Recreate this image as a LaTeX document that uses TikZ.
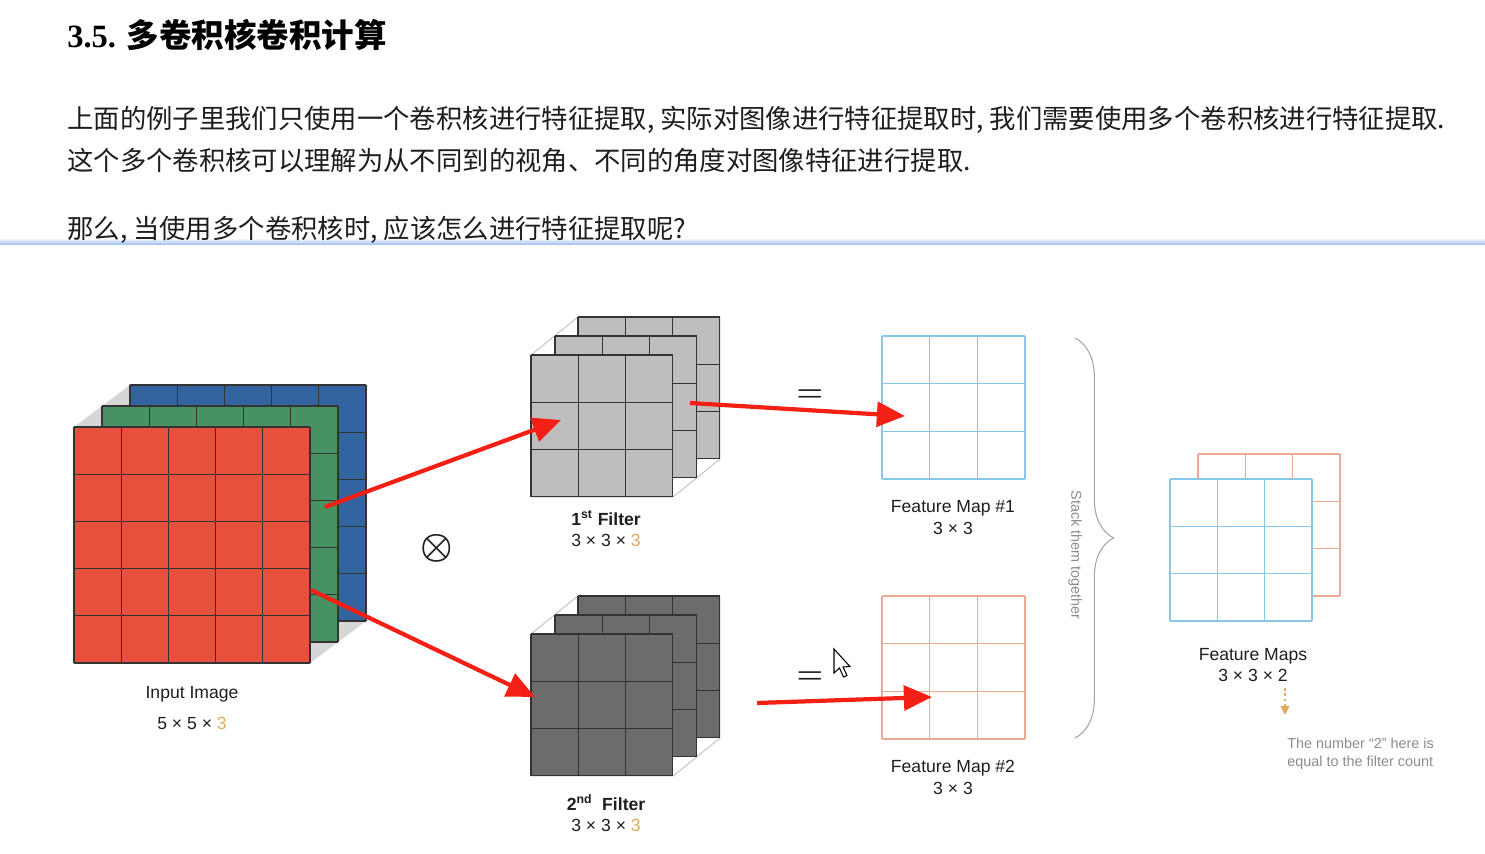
\documentclass[tikz,border=0pt]{standalone}
\usepackage{fontspec}
\setmainfont{Liberation Sans}
\newfontfamily\cjk{Noto Sans CJK SC}
\newfontfamily\numserif{Liberation Serif}
\usepackage{tikz}
\usetikzlibrary{arrows.meta, decorations.pathreplacing}
\definecolor{imgred}{RGB}{230,80,60}
\definecolor{imggreen}{RGB}{72,145,98}
\definecolor{imgblue}{RGB}{52,100,160}
\definecolor{hullgray}{RGB}{214,214,214}
\definecolor{filterlight}{RGB}{190,190,190}
\definecolor{filterdark}{RGB}{108,108,108}
\definecolor{fmblue}{RGB}{135,200,232}
\definecolor{fmsalmon}{RGB}{236,170,148}
\definecolor{annored}{RGB}{244,32,22}
\definecolor{depthgold}{RGB}{226,172,96}
\definecolor{notegray}{RGB}{140,140,140}
\definecolor{sepblue}{RGB}{165,198,240}
\definecolor{inktext}{RGB}{30,30,30}

% x, y, cell, n, fill options, line options
\newcommand{\facegrid}[6]{%
  \path[#5] (#1,#2) rectangle ({#1+#4*#3},{#2+#4*#3});
  \foreach \k in {0,...,#4}{
    \draw[#6] ({#1+\k*#3},#2) -- ({#1+\k*#3},{#2+#4*#3});
    \draw[#6] (#1,{#2+\k*#3}) -- ({#1+#4*#3},{#2+\k*#3});
  }
}

\begin{document}
\begin{tikzpicture}[x=0.02cm, y=-0.02cm,
  body/.style={font=\cjk\fontsize{15}{18}\selectfont, text=inktext, inner sep=0pt, anchor=base west},
  lbl/.style={font=\fontsize{10}{12}\selectfont, text=inktext, inner sep=0pt, anchor=base},
  note/.style={font=\fontsize{8.2}{10}\selectfont, text=notegray, inner sep=0pt, anchor=base west},
  cell/.style={line width=0.6pt, draw=black!80},
  fmline/.style={line width=0.7pt},
  hull/.style={draw=black!25, line width=0.5pt, fill=white},
  redarrow/.style={-{Triangle[length=16pt,width=14pt]}, line width=2.4pt, draw=annored},
  eqsign/.style={font=\fontsize{18}{18}\selectfont\boldmath, text=inktext, inner sep=0pt}
]
\useasboundingbox (0,0) rectangle (1485,853);
\fill[white] (0,0) rectangle (1485,853);

% heading and text
\shade[top color=white, bottom color=sepblue] (0,238) rectangle (1485,244);
\node[inner sep=0pt, anchor=base west, font=\fontsize{18.5}{22}\selectfont\bfseries] (title) at (67,47)
  {\numserif 3.5. \cjk 多卷积核卷积计算};
\node[body] (line1) at (67,128) {上面的例子里我们只使用一个卷积核进行特征提取, 实际对图像进行特征提取时, 我们需要使用多个卷积核进行特征提取.};
\node[body] (line2) at (67,170) {这个多个卷积核可以理解为从不同到的视角、不同的角度对图像特征进行提取.};
\node[body] (line3) at (67,238) {那么, 当使用多个卷积核时, 应该怎么进行特征提取呢?};

% input image 5x5x3
\fill[hullgray] (74,427) -- (130,385) -- (366,385) -- (366,621) -- (310,663) -- (74,663) -- cycle;
\facegrid{130}{385}{47.2}{5}{fill=imgblue}{cell}
\facegrid{102}{406}{47.2}{5}{fill=imggreen}{cell}
\facegrid{74}{427}{47.2}{5}{fill=imgred}{cell}
\node[lbl] (imgname) at (192,698) {Input Image};
\node[lbl] (imgdim) at (192,729) {5 × 5 × \textcolor{depthgold}{3}};

\node[inner sep=0pt, font=\fontsize{20}{20}\selectfont\boldmath, text=inktext] (conv) at (437,548) {$\otimes$};

% first filter
\path[hull] (531,355) -- (578,317) -- (720,317) -- (720,459) -- (673,497) -- (531,497) -- cycle;
\facegrid{578}{317}{47.3}{3}{fill=filterlight}{cell}
\facegrid{555}{336}{47.3}{3}{fill=filterlight}{cell}
\facegrid{531}{355}{47.3}{3}{fill=filterlight}{cell}
\node[lbl, font=\fontsize{10}{12}\selectfont\bfseries] (f1name) at (606,525) {1\textsuperscript{st} Filter};
\node[lbl] (f1dim) at (606,546) {3 × 3 × \textcolor{depthgold}{3}};

% second filter
\path[hull] (531,634) -- (578,596) -- (720,596) -- (720,738) -- (673,776) -- (531,776) -- cycle;
\facegrid{578}{596}{47.3}{3}{fill=filterdark}{cell}
\facegrid{555}{615}{47.3}{3}{fill=filterdark}{cell}
\facegrid{531}{634}{47.3}{3}{fill=filterdark}{cell}
\node[lbl, font=\fontsize{10}{12}\selectfont\bfseries] (f2name) at (606,810) {2\textsuperscript{nd}\ \ Filter};
\node[lbl] (f2dim) at (606,831) {3 × 3 × \textcolor{depthgold}{3}};

\node[eqsign] (eq1) at (810,396) {$=$};
\node[eqsign] (eq2) at (810,678) {$=$};

% feature maps
\facegrid{882}{336}{47.7}{3}{}{fmline, draw=fmblue}
\node[lbl] (fm1name) at (953,512) {Feature Map \#1};
\node[lbl] (fm1dim) at (953,534) {3 × 3};
\facegrid{882}{596}{47.7}{3}{}{fmline, draw=fmsalmon}
\node[lbl] (fm2name) at (953,772) {Feature Map \#2};
\node[lbl] (fm2dim) at (953,794) {3 × 3};

% brace
\draw[black!35, line width=0.6pt, decorate, decoration={brace, amplitude=22pt}] (1075,338) -- (1075,738);
\node[font=\fontsize{8.2}{10}\selectfont, text=notegray, inner sep=0pt, rotate=-90] (stack) at (1075,555) {Stack them together};

% stacked maps
\facegrid{1198}{454}{47.3}{3}{}{fmline, draw=fmsalmon}
\facegrid{1170}{479}{47.3}{3}{fill=white}{fmline, draw=fmblue}
\node[lbl] (fmsname) at (1253,660) {Feature Maps};
\node[lbl] (fmsdim) at (1253,681) {3 × 3 × 2};
\coordinate (cntTop) at (1285,688);
\coordinate (cntTip) at (1285,715);
\draw[depthgold, line width=0.6pt, dash pattern=on 1.5pt off 1.5pt, -{Triangle[length=5pt,width=5pt]}] (cntTop) -- (cntTip);
\node[note] (note1) at (1287,748) {The number “2” here is};
\node[note] (note2) at (1287,766) {equal to the filter count};

% red annotation arrows
\coordinate (imgOut1) at (325,507);
\coordinate (fltIn1) at (561,420);
\coordinate (imgOut2) at (311,590);
\coordinate (fltIn2) at (535,697);
\coordinate (fltOut1) at (690,403);
\coordinate (fmIn1) at (905,416);
\coordinate (eqOut2) at (757,703);
\coordinate (fmIn2) at (932,697);
\draw[redarrow] (imgOut1) -- (fltIn1);
\draw[redarrow] (imgOut2) -- (fltIn2);
\draw[redarrow] (fltOut1) -- (fmIn1);
\draw[redarrow] (eqOut2) -- (fmIn2);

% mouse pointer
\draw[fill=white, line width=0.6pt] (834,649) -- (834,673) -- (839.5,668) -- (843.5,677) -- (847,675.5) -- (843,667) -- (850,666.5) -- cycle;
\end{tikzpicture}
\end{document}
